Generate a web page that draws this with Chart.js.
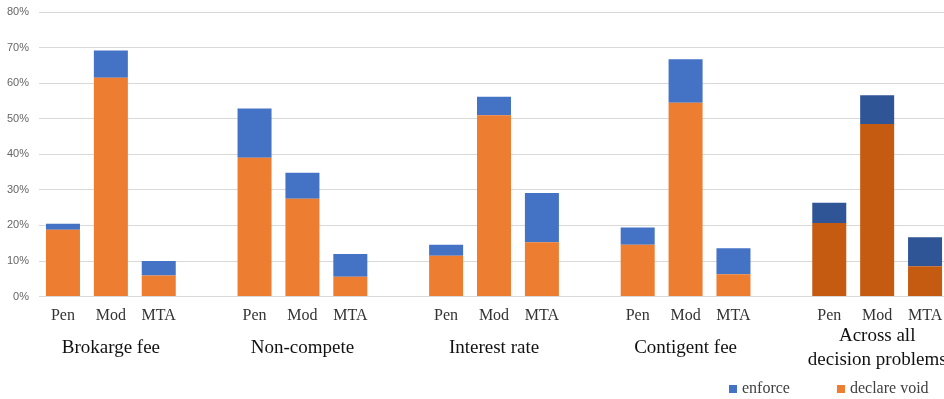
<!DOCTYPE html>
<html>
<head>
<meta charset="utf-8">
<script src="https://cdn.jsdelivr.net/npm/chart.js@4/dist/chart.umd.min.js"></script>
<style>
  html, body { margin: 0; padding: 0; background: #fff; overflow: hidden; }
  #wrap { position: relative; width: 950px; height: 399px; }
</style>
</head>
<body>
<div id="wrap"><canvas id="c"></canvas></div>
<script>
// Decision problems and the three treatments shown for each
const groupNames = ['Brokarge fee', 'Non-compete', 'Interest rate', 'Contigent fee', ['Across all', 'decision problems']];
const treatments = ['Pen', 'Mod', 'MTA'];

// Share of subjects (in %) per treatment, one array per decision problem
const declareVoidBrokerage   = [18.8, 61.5, 5.9];
const declareVoidNonCompete  = [39.0, 27.5, 5.6];
const declareVoidInterest    = [11.5, 51.0, 15.3];
const declareVoidContingent  = [14.6, 54.5, 6.3];
const declareVoidAll         = [20.7, 48.5, 8.5];

const enforceBrokerage   = [1.7, 7.7, 4.1];
const enforceNonCompete  = [13.9, 7.3, 6.4];
const enforceInterest    = [3.1, 5.2, 13.8];
const enforceContingent  = [4.8, 12.2, 7.3];
const enforceAll         = [5.7, 8.1, 8.2];

const yTicks = [0, 10, 20, 30, 40, 50, 60, 70, 80];

const declareVoidGroups = [declareVoidBrokerage, declareVoidNonCompete, declareVoidInterest, declareVoidContingent, declareVoidAll];
const enforceGroups = [enforceBrokerage, enforceNonCompete, enforceInterest, enforceContingent, enforceAll];

// Flatten groups into one category axis, with an empty slot between groups
const labels = [], groupOf = [], voidData = [], enforceData = [];
declareVoidGroups.forEach((g, gi) => {
  if (gi > 0) { labels.push(''); groupOf.push(-1); voidData.push(null); enforceData.push(null); }
  treatments.forEach((t, ti) => {
    labels.push(t);
    groupOf.push(gi);
    voidData.push(g[ti]);
    enforceData.push(enforceGroups[gi][ti]);
  });
});

// The summary group is shaded darker
const lastGroup = groupNames.length - 1;
const voidColors = groupOf.map(g => g === lastGroup ? '#C55A11' : '#ED7D31');
const enforceColors = groupOf.map(g => g === lastGroup ? '#2F5597' : '#4472C4');

// Legend drawn along the bottom right, enforce first
const bottomLegend = {
  id: 'bottomLegend',
  afterDraw(chart) {
    const ctx = chart.ctx;
    const items = [chart.data.datasets[1], chart.data.datasets[0]];
    ctx.save();
    ctx.font = '16px "Liberation Serif", "Times New Roman", serif';
    ctx.textBaseline = 'middle';
    const box = 8, gap = 5, spacing = 47;
    const cy = 389;
    let x = 729;
    items.forEach(ds => {
      const col = Array.isArray(ds.backgroundColor) ? ds.backgroundColor[0] : ds.backgroundColor;
      ctx.fillStyle = col;
      ctx.fillRect(x, cy - box / 2, box, box);
      ctx.fillStyle = '#404040';
      ctx.fillText(ds.label, x + box + gap, cy);
      x += box + gap + ctx.measureText(ds.label).width + spacing;
    });
    ctx.restore();
  }
};

// Axis labels may overhang the plot edges without shrinking it
const noSidePadding = (scale) => { scale.paddingLeft = 0; scale.paddingRight = 0; };
const noEndPadding = (scale) => { scale.paddingTop = 0; scale.paddingBottom = 0; };
// Group names may rise into the row above without being cut off
const unclippedGroups = (scale) => { noSidePadding(scale); scale._computeLabelArea = () => undefined; };

new Chart(document.getElementById('c'), {
  type: 'bar',
  data: {
    labels: labels,
    datasets: [
      { label: 'declare void', data: voidData, backgroundColor: voidColors, borderWidth: 0 },
      { label: 'enforce', data: enforceData, backgroundColor: enforceColors, borderWidth: 0 }
    ]
  },
  options: {
    responsive: true,
    maintainAspectRatio: false,
    animation: false,
    layout: { padding: { left: -3, right: 1, top: 12, bottom: 13 } },
    datasets: { bar: { categoryPercentage: 1, barPercentage: 0.71 } },
    plugins: { legend: { display: false }, tooltip: { enabled: false } },
    scales: {
      x: {
        stacked: true,
        grid: { display: false, drawTicks: false },
        border: { display: false },
        afterFit: noSidePadding,
        ticks: {
          autoSkip: false, maxRotation: 0, padding: 15,
          color: '#333',
          font: { family: '"Liberation Serif", "Times New Roman", serif', size: 16, lineHeight: 0.5 }
        }
      },
      x2: {
        type: 'category',
        labels: labels,
        position: 'bottom',
        grid: { display: false, drawTicks: false },
        border: { display: false },
        afterFit: unclippedGroups,
        ticks: {
          autoSkip: false, maxRotation: 0, padding: 1,
          crossAlign: 'center',
          color: '#111',
          font: { family: '"Liberation Serif", "Times New Roman", serif', size: 19, lineHeight: 1.3 },
          callback: function (value, index) {
            const g = groupOf[index];
            return (g >= 0 && labels[index] === 'Mod') ? groupNames[g] : '';
          }
        }
      },
      y: {
        stacked: true,
        min: 0, max: 80,
        afterBuildTicks: (axis) => { axis.ticks = yTicks.map(v => ({ value: v })); },
        afterFit: noEndPadding,
        grid: { color: '#d9d9d9', lineWidth: 1, drawTicks: false },
        border: { display: false },
        ticks: {
          padding: 10,
          color: '#666',
          font: { family: '"Liberation Sans", Arial, sans-serif', size: 11 },
          callback: v => v + '%'
        }
      }
    }
  },
  plugins: [bottomLegend]
});
</script>
</body>
</html>
